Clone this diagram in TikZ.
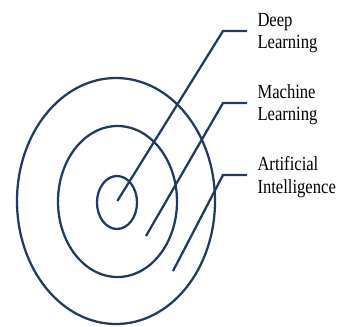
\documentclass[tikz,border=0pt]{standalone}
\usepackage{fontspec}
\setmainfont[FakeStretch=0.83]{Liberation Serif}

\definecolor{ringblue}{RGB}{33,58,99}

\tikzset{every picture/.style={line width=0.75pt}}
\tikzset{
  ring/.style={draw=ringblue, line width=1.7pt},
  leader/.style={draw=ringblue, line width=1.7pt, shorten >=7.5pt},
  lbl/.style={anchor=west, inner sep=0pt, align=left, font=\fontsize{15}{16.7}\selectfont}
}

\begin{document}
\begin{tikzpicture}[x=0.75pt,y=0.75pt,yscale=-1,xscale=1]
\useasboundingbox (0,0) rectangle (339,326);

%Shape: Ellipse, outer ring
\draw [ring] (116,201) ellipse [x radius=99, y radius=123];
%Shape: Ellipse, middle ring
\draw [ring] (117.5,201.5) ellipse [x radius=59.5, y radius=75.5];
%Shape: Ellipse, inner ring
\draw [ring] (117,202.5) ellipse [x radius=20, y radius=26.5];

% Text Node
\node [lbl] (dl) at (257,33) {Deep\\Learning};
% Text Node
\node [lbl] (ml) at (257,105) {Machine\\Learning};
% Text Node
\node [lbl] (ai) at (257,177) {Artificial\\Intelligence};

% leader ends and bends
\coordinate (dlTip) at (117.3,201);
\coordinate (dlBend) at (223,31);
\coordinate (mlTip) at (146,236);
\coordinate (mlBend) at (223,103);
\coordinate (aiTip) at (173,271);
\coordinate (aiBend) at (223,175);

%Straight Lines
\draw [leader] (dlTip) -- (dlBend) -- (dlBend -| dl.west);
\draw [leader] (mlTip) -- (mlBend) -- (mlBend -| ml.west);
\draw [leader] (aiTip) -- (aiBend) -- (aiBend -| ai.west);

\end{tikzpicture}
\end{document}
